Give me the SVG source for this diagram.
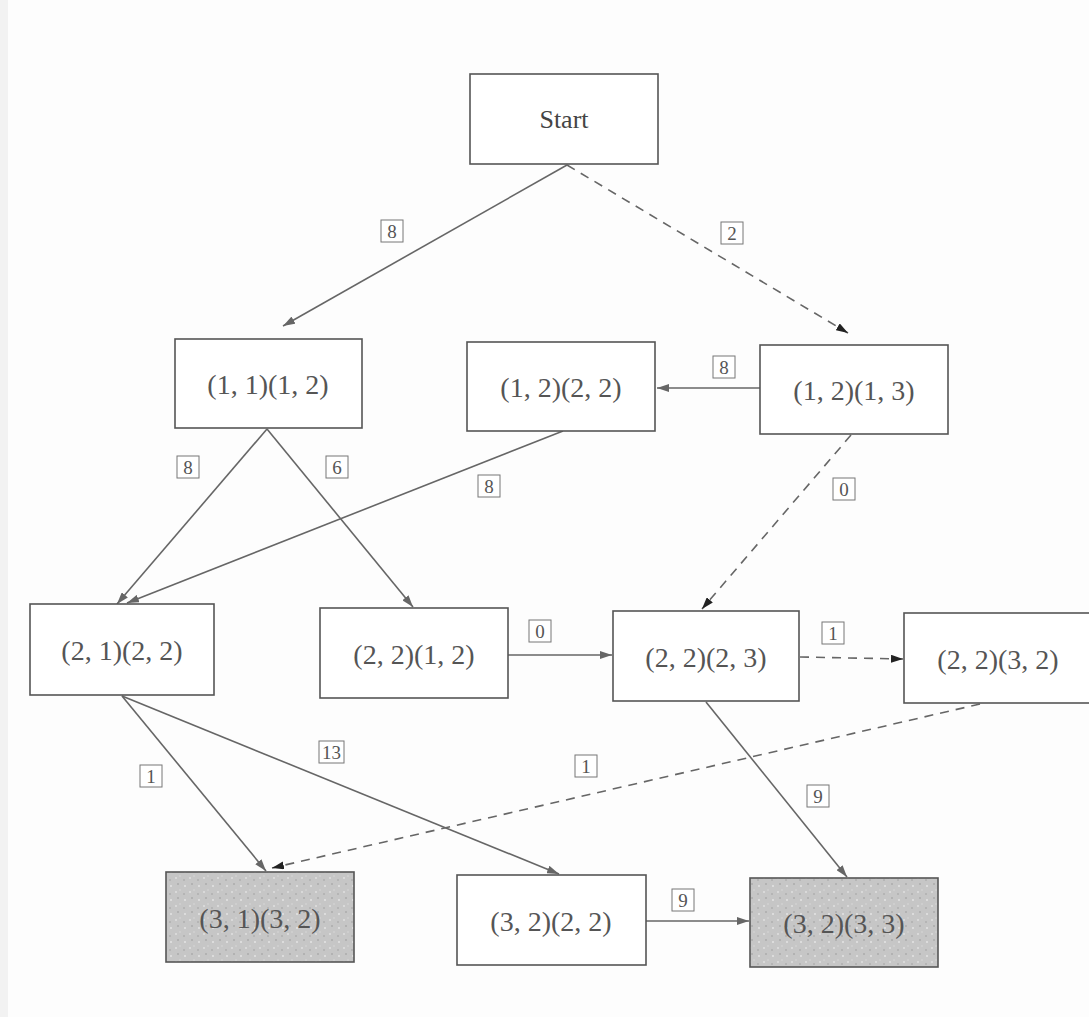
<svg xmlns="http://www.w3.org/2000/svg" width="1089" height="1017" viewBox="0 0 1089 1017">
<defs>
<style>
.node{fill:#fff;stroke:#555;stroke-width:1.6}
.shade{fill:url(#dots);stroke:#555;stroke-width:1.6}
.t{font-family:"Liberation Serif","Times New Roman",serif;font-size:28px;fill:#555;text-anchor:middle}
.ts{fill:#444;font-size:26px}
.e{stroke:#666;stroke-width:1.6;fill:none;marker-end:url(#ah)}
.d{stroke:#666;stroke-width:1.6;fill:none;stroke-dasharray:9 7;marker-end:url(#ahd)}
.lb{fill:#fff;stroke:#777;stroke-width:1}
.lt{font-family:"Liberation Serif","Times New Roman",serif;font-size:19px;fill:#555;text-anchor:middle}
</style>
<marker id="ah" viewBox="0 0 12 8" refX="12" refY="4" markerWidth="12" markerHeight="8" markerUnits="userSpaceOnUse" orient="auto">
<path d="M0,0 L12,4 L0,8 z" fill="#666"/>
</marker>
<marker id="ahd" viewBox="0 0 12 8" refX="12" refY="4" markerWidth="12" markerHeight="8" markerUnits="userSpaceOnUse" orient="auto">
<path d="M0,0 L12,4 L0,8 z" fill="#222"/>
</marker>
<pattern id="dots" width="14" height="14" patternUnits="userSpaceOnUse">
<rect width="14" height="14" fill="#c6c6c6"/>
<circle cx="3" cy="4" r="1" fill="#e4e4e4"/>
<circle cx="10" cy="2" r="0.8" fill="#9a9a9a"/>
<circle cx="8" cy="10" r="1" fill="#e0e0e0"/>
<circle cx="2" cy="12" r="0.8" fill="#a0a0a0"/>
<circle cx="12" cy="8" r="0.7" fill="#dcdcdc"/>
</pattern>
</defs>
<rect width="1089" height="1017" fill="#fdfdfd"/>
<rect width="8" height="1017" fill="#f2f2f2"/>

<g id="connectors">
<line class="e" x1="567" y1="165" x2="283" y2="326"/>
<line class="d" x1="567" y1="165" x2="848" y2="333"/>
<line class="e" x1="760" y1="388" x2="657" y2="388"/>
<line class="d" x1="851" y1="435" x2="702" y2="609"/>
<line class="e" x1="267" y1="429" x2="117" y2="604"/>
<line class="e" x1="267" y1="429" x2="413" y2="607"/>
<line class="e" x1="563" y1="431" x2="127" y2="603"/>
<line class="e" x1="508" y1="655" x2="612" y2="655"/>
<line class="d" x1="800" y1="657" x2="903" y2="659"/>
<line class="e" x1="122" y1="696" x2="266" y2="871"/>
<line class="e" x1="122" y1="696" x2="559" y2="874"/>
<line class="d" x1="980" y1="704" x2="272" y2="868"/>
<line class="e" x1="706" y1="702" x2="847" y2="877"/>
<line class="e" x1="646" y1="921" x2="749" y2="921"/>
<g id="labels">
<rect class="lb" x="381" y="220" width="22" height="22"/><text class="lt" x="392" y="238">8</text>
<rect class="lb" x="721" y="222" width="22" height="22"/><text class="lt" x="732" y="240">2</text>
<rect class="lb" x="713" y="356" width="22" height="22"/><text class="lt" x="724" y="374">8</text>
<rect class="lb" x="833" y="478" width="22" height="22"/><text class="lt" x="844" y="496">0</text>
<rect class="lb" x="822" y="622" width="22" height="22"/><text class="lt" x="833" y="640">1</text>
<rect class="lb" x="177" y="456" width="22" height="22"/><text class="lt" x="188" y="474">8</text>
<rect class="lb" x="326" y="456" width="22" height="22"/><text class="lt" x="337" y="474">6</text>
<rect class="lb" x="478" y="475" width="22" height="22"/><text class="lt" x="489" y="493">8</text>
<rect class="lb" x="529" y="620" width="22" height="22"/><text class="lt" x="540" y="638">0</text>
<rect class="lb" x="319" y="741" width="25" height="22"/><text class="lt" x="331.5" y="759">13</text>
<rect class="lb" x="140" y="765" width="22" height="22"/><text class="lt" x="151" y="783">1</text>
<rect class="lb" x="575" y="755" width="22" height="22"/><text class="lt" x="586" y="773">1</text>
<rect class="lb" x="807" y="785" width="22" height="22"/><text class="lt" x="818" y="803">9</text>
<rect class="lb" x="672" y="889" width="22" height="22"/><text class="lt" x="683" y="907">9</text>
</g>
</g>

<g id="start"><rect class="node" x="470" y="74" width="188" height="90"/><text class="t ts" x="564" y="128">Start</text></g>
<g id="n11_12"><rect class="node" x="175" y="339" width="187" height="89"/><text class="t" x="268" y="394">(1, 1)(1, 2)</text></g>
<g id="n12_22"><rect class="node" x="467" y="342" width="188" height="89"/><text class="t" x="561" y="397">(1, 2)(2, 2)</text></g>
<g id="n12_13"><rect class="node" x="760" y="345" width="188" height="89"/><text class="t" x="854" y="400">(1, 2)(1, 3)</text></g>
<g id="n21_22"><rect class="node" x="30" y="604" width="184" height="91"/><text class="t" x="122" y="660">(2, 1)(2, 2)</text></g>
<g id="n22_12"><rect class="node" x="320" y="608" width="188" height="90"/><text class="t" x="414" y="664">(2, 2)(1, 2)</text></g>
<g id="n22_23"><rect class="node" x="613" y="611" width="186" height="90"/><text class="t" x="706" y="667">(2, 2)(2, 3)</text></g>
<g id="n22_32"><rect class="node" x="904" y="613" width="190" height="90"/><text class="t" x="998" y="669">(2, 2)(3, 2)</text></g>
<g id="n31_32"><rect class="shade" x="166" y="872" width="188" height="90"/><text class="t" x="260" y="928">(3, 1)(3, 2)</text></g>
<g id="n32_22"><rect class="node" x="457" y="875" width="189" height="90"/><text class="t" x="551" y="931">(3, 2)(2, 2)</text></g>
<g id="n32_33"><rect class="shade" x="750" y="878" width="188" height="89"/><text class="t" x="844" y="933">(3, 2)(3, 3)</text></g>
</svg>
